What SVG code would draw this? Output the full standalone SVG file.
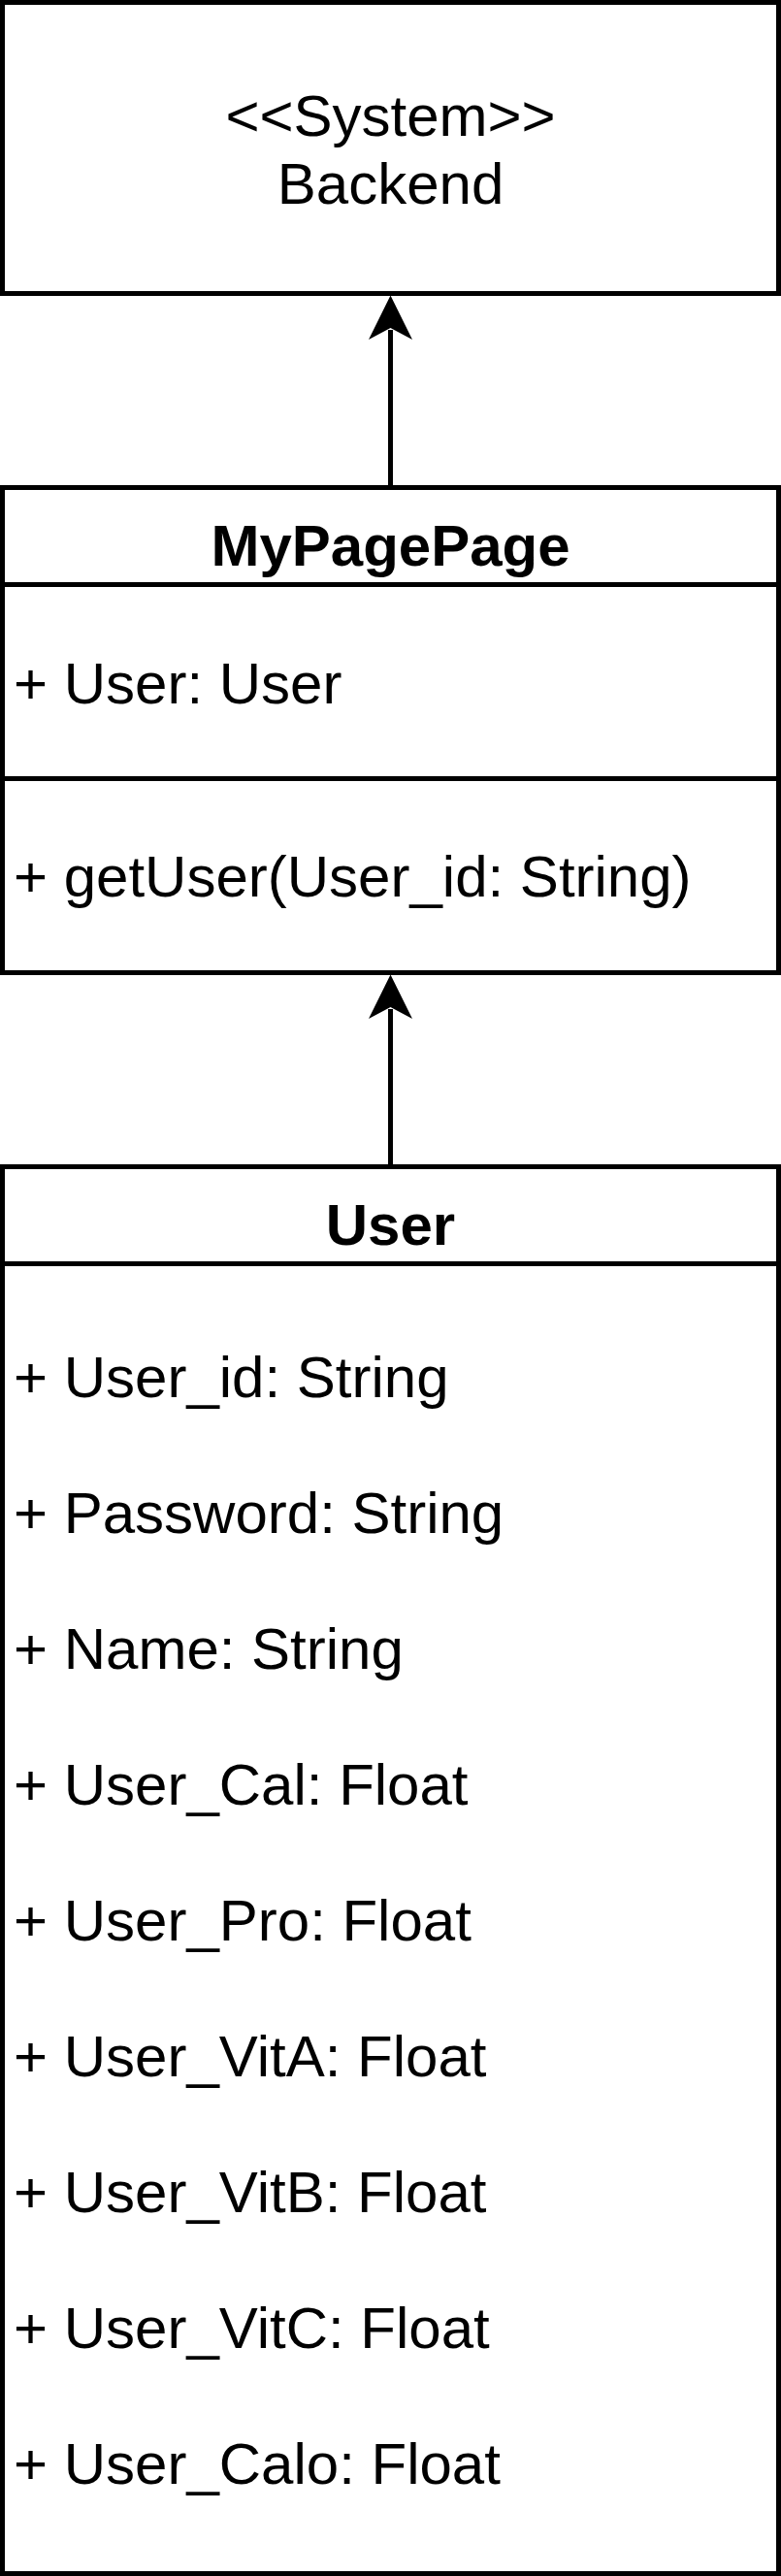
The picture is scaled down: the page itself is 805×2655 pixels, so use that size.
<svg xmlns="http://www.w3.org/2000/svg" width="805" height="2655" viewBox="0 0 805 2655">
<defs>
<style>
.box{fill:#fff;stroke:#000;stroke-width:5}
.sep{stroke:#000;stroke-width:5;fill:none}
.t{font-family:"Liberation Sans",Arial,Helvetica,sans-serif;font-size:60px;fill:#000}
.c{text-anchor:middle}
.b{font-weight:bold}
.edge{stroke:#000;stroke-width:5;fill:none}
.head{fill:#000;stroke:none}
</style>
</defs>
<rect width="805" height="2655" fill="#fff"/>
<g id="backend">
<rect class="box" x="2.5" y="2.5" width="800" height="300"/>
<text class="t c" x="402.5" y="140">&lt;&lt;System&gt;&gt;</text>
<text class="t c" x="402.5" y="210">Backend</text>
</g>
<g id="mypagepage">
<rect class="box" x="2.5" y="502.5" width="800" height="500"/>
<line class="sep" x1="2.5" y1="602.5" x2="802.5" y2="602.5"/>
<line class="sep" x1="2.5" y1="802.5" x2="802.5" y2="802.5"/>
<text class="t c b" x="402.5" y="583">MyPagePage</text>
<text class="t" x="14" y="725">+ User: User</text>
<text class="t" x="14" y="924">+ getUser(User_id: String)</text>
</g>
<g id="user">
<rect class="box" x="2.5" y="1202.5" width="800" height="1450"/>
<line class="sep" x1="2.5" y1="1302.5" x2="802.5" y2="1302.5"/>
<text class="t c b" x="402.5" y="1283">User</text>
<text class="t" x="14" y="1440">+ User_id: String</text>
<text class="t" x="14" y="1580">+ Password: String</text>
<text class="t" x="14" y="1720">+ Name: String</text>
<text class="t" x="14" y="1860">+ User_Cal: Float</text>
<text class="t" x="14" y="2000">+ User_Pro: Float</text>
<text class="t" x="14" y="2140">+ User_VitA: Float</text>
<text class="t" x="14" y="2280">+ User_VitB: Float</text>
<text class="t" x="14" y="2420">+ User_VitC: Float</text>
<text class="t" x="14" y="2560">+ User_Calo: Float</text>
</g>
<g id="connectors">
<line class="edge" x1="402.5" y1="502.5" x2="402.5" y2="340"/>
<polygon class="head" points="402.5,304.5 425,350 402.5,338 380,350"/>
<line class="edge" x1="402.5" y1="1202.5" x2="402.5" y2="1040"/>
<polygon class="head" points="402.5,1004.5 425,1050 402.5,1038 380,1050"/>
</g>
</svg>
